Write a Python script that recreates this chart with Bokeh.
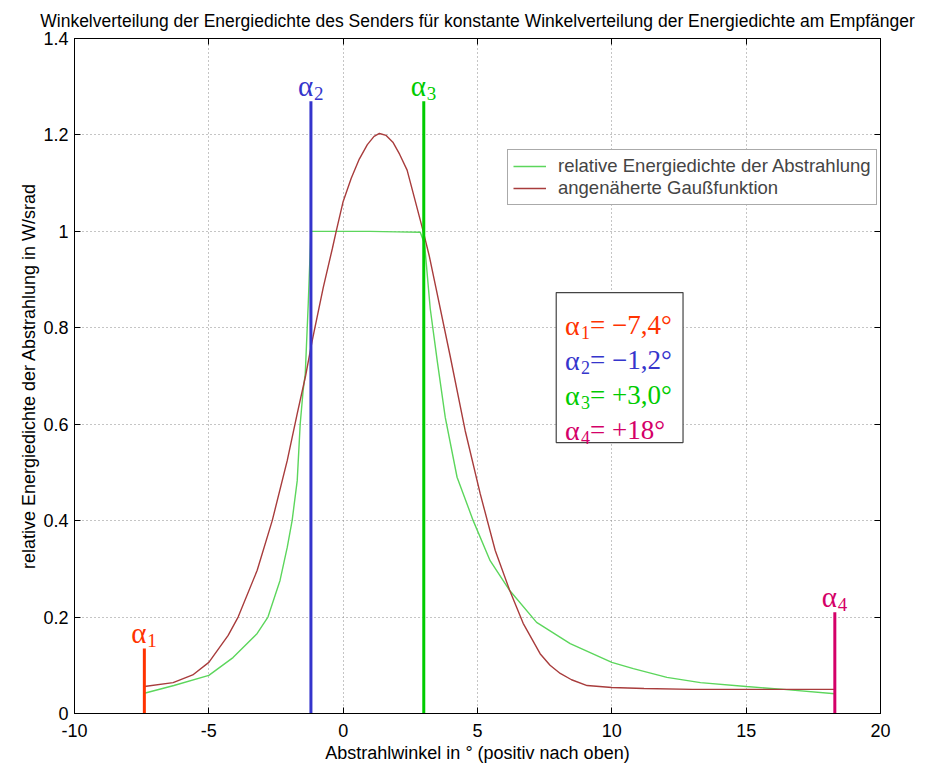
from bokeh.plotting import figure
from bokeh.models import LinearAxis, FixedTicker, Legend, LegendItem, Range1d, ColumnDataSource
from bokeh.core.properties import value
from bokeh.embed import file_html
from bokeh.resources import INLINE

# ---------------- data ----------------
green_x = [-7.4, -6.3, -5.0, -4.1, -3.2, -2.8, -2.35, -2.08, -1.9, -1.71, -1.6, -1.49, -1.41, -1.3, -1.2,
           0.0, 1.0, 2.0, 2.87, 3.03, 3.24, 3.5, 3.8, 4.24, 4.84, 5.47, 6.2, 7.2, 8.45, 10.0, 10.8, 12.05,
           13.3, 15.0, 16.4, 18.3]
green_y = [0.042, 0.058, 0.079, 0.116, 0.166, 0.20, 0.276, 0.345, 0.40, 0.483, 0.60, 0.67, 0.705, 0.85, 1.0,
           1.0, 1.0, 0.999, 0.998, 0.974, 0.84, 0.732, 0.614, 0.49, 0.40, 0.317, 0.255, 0.189, 0.145, 0.106,
           0.093, 0.075, 0.064, 0.056, 0.05, 0.041]

red_x = [-7.4, -6.33, -5.6, -5.0, -4.28, -3.91, -3.2, -2.64, -2.08, -1.71, -1.4, -1.15, -0.74, -0.4, -0.26,
         0.0, 0.3, 0.6, 0.9, 1.15, 1.35, 1.6, 1.85, 2.1, 2.38, 2.65, 2.98, 3.2, 3.45, 3.98, 4.54, 5.1, 5.66,
         6.2, 6.7, 7.33, 7.7, 8.08, 8.5, 9.08, 10.0, 11.2, 13.0, 15.0, 18.3]
red_y = [0.056, 0.064, 0.08, 0.106, 0.162, 0.20, 0.297, 0.40, 0.525, 0.622, 0.70, 0.774, 0.884, 0.965, 1.0,
         1.062, 1.11, 1.15, 1.18, 1.197, 1.203, 1.199, 1.185, 1.16, 1.127, 1.07, 1.0, 0.95, 0.884, 0.742,
         0.587, 0.456, 0.338, 0.255, 0.187, 0.124, 0.10, 0.083, 0.07, 0.058, 0.054, 0.052, 0.05, 0.05, 0.05]

alpha_x = [-7.4, -1.2, 3.0, 18.3]
alpha_top = [0.135, 1.27, 1.27, 0.21]
alpha_sub = ["1", "2", "3", "4"]
alpha_value_text = ["= \u22127,4°", "= \u22121,2°", "= +3,0°", "= +18°"]

x_ticks = [-10, -5, 0, 5, 10, 15, 20]
x_tick_labels = ["-10", "-5", "0", "5", "10", "15", "20"]
y_ticks = [0, 0.2, 0.4, 0.6, 0.8, 1.0, 1.2, 1.4]
y_tick_labels = ["0", "0.2", "0.4", "0.6", "0.8", "1", "1.2", "1.4"]

title_text = "Winkelverteilung der Energiedichte des Senders für konstante Winkelverteilung der Energiedichte am Empfänger"
x_label = "Abstrahlwinkel in ° (positiv nach oben)"
y_label = "relative Energiedichte der Abstrahlung in W/srad"
legend_labels = ["relative Energiedichte der Abstrahlung", "angenäherte Gaußfunktion"]

# ---------------- styles ----------------
alpha_colors = ["#ff3300", "#3535cc", "#00cc00", "#d40068"]
green_col = "#5cd65c"
red_col = "#a83c3c"
SANS = "Liberation Sans"
SERIF = "Liberation Serif"

p = figure(frame_width=806, frame_height=675,
           x_range=Range1d(-10, 20), y_range=Range1d(0, 1.4),
           output_backend="svg", toolbar_location=None,
           min_border_left=74, min_border_right=55, min_border_top=38, min_border_bottom=54,
           background_fill_color="white", border_fill_color="white")

p.title.text = title_text
p.title.text_font = SANS
p.title.text_font_size = "17.5px"
p.title.text_font_style = "normal"
p.title.align = "center"
p.title.offset = -7
p.title.standoff = 16
p.title.text_color = "black"

p.outline_line_color = "black"
p.outline_line_width = 1

for ax, ticks, labels in ((p.xaxis[0], x_ticks, x_tick_labels), (p.yaxis[0], y_ticks, y_tick_labels)):
    ax.ticker = FixedTicker(ticks=ticks)
    ax.major_label_overrides = {t: l for t, l in zip(ticks, labels)}
    ax.major_tick_in = 6
    ax.major_tick_out = 0
    ax.minor_tick_line_color = None
    ax.axis_line_color = "black"
    ax.major_tick_line_color = "black"
    ax.major_label_text_font = SANS
    ax.major_label_text_font_size = "18px"
    ax.major_label_text_color = "black"
    ax.axis_label_text_font = SANS
    ax.axis_label_text_font_size = "18px"
    ax.axis_label_text_font_style = "normal"
    ax.axis_label_text_color = "black"

p.xaxis[0].axis_label = x_label
p.yaxis[0].axis_label = y_label
p.xaxis[0].major_label_standoff = 10
p.xaxis[0].axis_label_standoff = 3
p.yaxis[0].major_label_standoff = 6
p.yaxis[0].axis_label_standoff = 1

# mirrored tick marks on top and right
top_ax = LinearAxis(ticker=FixedTicker(ticks=x_ticks), major_label_overrides={t: "" for t in x_ticks},
                    major_tick_in=6, major_tick_out=0, minor_tick_line_color=None,
                    axis_line_color="black", major_label_text_font_size="1px", major_label_standoff=0)
right_ax = LinearAxis(ticker=FixedTicker(ticks=y_ticks), major_label_overrides={t: "" for t in y_ticks},
                      major_tick_in=6, major_tick_out=0, minor_tick_line_color=None,
                      axis_line_color="black", major_label_text_font_size="1px", major_label_standoff=0)
p.add_layout(top_ax, "above")
p.add_layout(right_ax, "right")

p.xgrid.ticker = FixedTicker(ticks=x_ticks)
p.ygrid.ticker = FixedTicker(ticks=y_ticks)
for g in (p.xgrid, p.ygrid):
    g.grid_line_color = "#8a8a8a"
    g.grid_line_dash = "1 3"
    g.grid_line_width = 1

# curves
g_line = p.line(green_x, green_y, line_color=green_col, line_width=1.4)
r_line = p.line(red_x, red_y, line_color=red_col, line_width=1.4)

# alpha marker lines
msrc = ColumnDataSource(dict(x=alpha_x, top=alpha_top, bottom=[0] * 4, color=alpha_colors,
                             a=["α"] * 4, sub=alpha_sub))
p.segment(x0="x", y0="bottom", x1="x", y1="top", line_color="color", line_width=3, source=msrc)
p.text(x="x", y="top", text="a", text_color="color", text_font=value(SERIF), text_font_size="29px",
       text_baseline="alphabetic", text_align="left", x_offset=-13, y_offset=-15, source=msrc)
p.text(x="x", y="top", text="sub", text_color="color", text_font=value(SERIF), text_font_size="19px",
       text_baseline="alphabetic", text_align="left", x_offset=3, y_offset=-8, source=msrc)

# info box
p.quad(left=[7.93], right=[12.65], bottom=[0.562], top=[0.873], fill_color="white",
       line_color="#444444", line_width=1.2)
row_y = [0.805 - i * 0.0725 for i in range(4)]
bx = 8.26
bsrc = ColumnDataSource(dict(x=[bx] * 4, y=row_y, color=alpha_colors, a=["α"] * 4, sub=alpha_sub,
                             val=alpha_value_text))
p.text(x="x", y="y", text="a", text_color="color", text_font=value(SERIF), text_font_size="28px",
       text_baseline="alphabetic", x_offset=0, source=bsrc)
p.text(x="x", y="y", text="sub", text_color="color", text_font=value(SERIF), text_font_size="18px",
       text_baseline="alphabetic", x_offset=16, y_offset=7, source=bsrc)
p.text(x="x", y="y", text="val", text_color="color", text_font=value(SERIF), text_font_size="27px",
       text_baseline="alphabetic", x_offset=25, source=bsrc)

legend = Legend(items=[LegendItem(label=legend_labels[0], renderers=[g_line]),
                       LegendItem(label=legend_labels[1], renderers=[r_line])],
                location=(433, 508), label_text_font=SANS, label_text_font_size="18.5px",
                glyph_width=33, glyph_height=18, label_height=18, label_standoff=12,
                padding=5, spacing=0, margin=0, border_line_color="#555555",
                background_fill_color="white", background_fill_alpha=1)
p.add_layout(legend)

open("out.html", "w").write(file_html(p, INLINE))
